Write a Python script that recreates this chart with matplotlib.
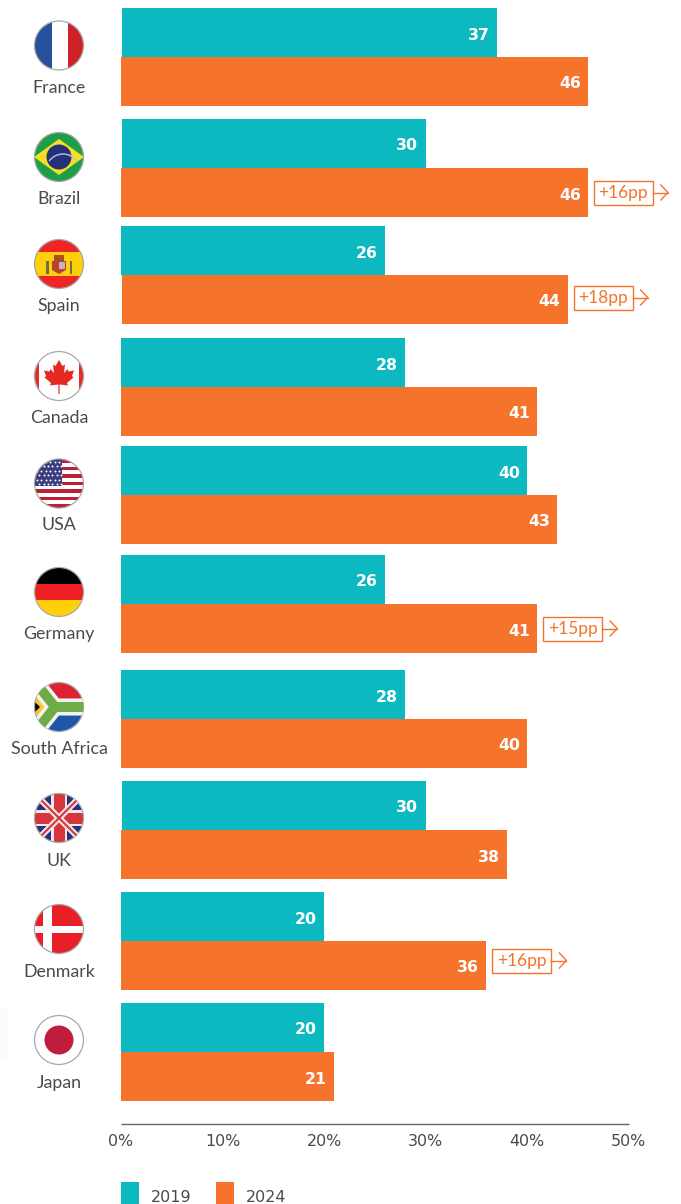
import numpy as np
import matplotlib
matplotlib.use('Agg')
import matplotlib.pyplot as plt
from matplotlib.patches import Circle, Rectangle, Polygon, Ellipse, Arc

countries = ['France', 'Brazil', 'Spain', 'Canada', 'USA', 'Germany', 'South Africa', 'UK', 'Denmark', 'Japan']
values_2019 = [37, 30, 26, 28, 40, 26, 28, 30, 20, 20]
values_2024 = [46, 46, 44, 41, 43, 41, 40, 38, 36, 21]
callouts = {'Brazil': '+16pp', 'Spain': '+18pp', 'Germany': '+15pp', 'Denmark': '+16pp'}
x_ticks = [0, 10, 20, 30, 40, 50]
series_names = ['2019', '2024']

# layout in picture pixels
W, H = 681, 1204
row_tops = [8, 119, 226, 338, 446, 555, 670, 781, 892, 1003]
flag_y = [45.5, 157, 264, 376, 483.5, 592, 707, 818, 929, 1040]
label_y = [88, 199, 306, 418, 525, 634, 749, 861, 972, 1083]
callout_y = {'Brazil': 192.5, 'Spain': 297.5, 'Germany': 628.5, 'Denmark': 960.5}
# the source bars do not all start on the same pixel
shift_2019 = ['France', 'Brazil', 'UK']
shift_2024 = ['Spain']
FLAG_X = 59
R = 24.5
X0 = 121
PX = 10.15
BAR_H = 49
TEAL = '#0CB9C1'
ORANGE = '#F6732C'
TEXT = '#4a4a4a'

fig = plt.figure(figsize=(W / 100, H / 100), dpi=100, facecolor='white')
ax = fig.add_axes([0, 0, 1, 1])
ax.set_xlim(-X0 / PX, (W - X0) / PX)
ax.set_ylim(H, 0)
ax.axis('off')
pix = fig.add_axes([0, 0, 1, 1], facecolor='none')
pix.set_xlim(0, W)
pix.set_ylim(H, 0)
pix.axis('off')

# bars
for i, c in enumerate(countries):
    top = row_tops[i]
    s19 = 0.1 if c in shift_2019 else 0
    s24 = 0.1 if c in shift_2024 else 0
    ax.barh(top + BAR_H / 2, values_2019[i] - s19, left=s19, height=BAR_H, color=TEAL, linewidth=0)
    ax.barh(top + BAR_H * 1.5, values_2024[i] - s24, left=s24, height=BAR_H, color=ORANGE, linewidth=0)
    ax.text(values_2019[i] - 0.7, top + BAR_H / 2 + 2.5, str(values_2019[i]), color='white', ha='right',
            va='center', fontsize=11.3, fontweight='bold', family='DejaVu Sans')
    ax.text(values_2024[i] - 0.7, top + BAR_H * 1.5 + 2.5, str(values_2024[i]), color='white', ha='right',
            va='center', fontsize=11.3, fontweight='bold', family='DejaVu Sans')
    pix.text(FLAG_X, label_y[i], c, color=TEXT, ha='center', va='center', fontsize=12.8, family='Lato')
    if c in callouts:
        bar_end = X0 + values_2024[i] * PX
        y = callout_y[c]
        left = bar_end + 6
        pix.add_patch(Rectangle((left, y - 12), 59, 24.5, fill=False, edgecolor=ORANGE, linewidth=1))
        pix.text(left + 29.5, y + 0.5, callouts[c], color=ORANGE, ha='center', va='center',
                 fontsize=12.5, family='Lato')
        pix.plot([left + 59, left + 74], [y, y], color=ORANGE, lw=1)
        pix.plot([left + 67, left + 74, left + 67], [y - 7.5, y, y + 7.5], color=ORANGE, lw=1)

# axis line and ticks
ax.plot([0, 50], [1123.5, 1123.5], color='#666666', lw=1, solid_capstyle='butt')
for t in x_ticks:
    ax.text(t, 1141.5, '%d%%' % t, color=TEXT, ha='center', va='center', fontsize=11.4, family='DejaVu Sans')

# legend
for lx, name, col in zip([121, 216], series_names, [TEAL, ORANGE]):
    pix.add_patch(Rectangle((lx, 1182), 18, 22, color=col, linewidth=0))
    pix.text(lx + 30, 1197, name, color=TEXT, ha='left', va='center', fontsize=11.5, family='DejaVu Sans')

# faint smudge at the left of Japan
pix.add_patch(Rectangle((0, 1008), 9, 52, color='#fbfbfb', linewidth=0))


# flags, everything clipped to the circle
def flag(cy):
    clip = Circle((FLAG_X, cy), R, transform=pix.transData)

    def rect(x0, y0, x1, y1, col):
        p = Rectangle((FLAG_X + x0, cy + y0), x1 - x0, y1 - y0, color=col, linewidth=0)
        pix.add_patch(p)
        p.set_clip_path(clip)

    def poly(pts, col):
        p = Polygon([(FLAG_X + a, cy + b) for a, b in pts], closed=True, color=col, linewidth=0)
        pix.add_patch(p)
        p.set_clip_path(clip)

    def line(pts, col, lw):
        l, = pix.plot([FLAG_X + a for a, b in pts], [cy + b for a, b in pts], color=col, lw=lw,
                      solid_capstyle='butt', solid_joinstyle='miter')
        l.set_clip_path(clip)

    return rect, poly, line, clip


def ring(cy):
    pix.add_patch(Circle((FLAG_X, cy), R, fill=False, edgecolor='#a8a8a8', linewidth=0.9))


# France
rect, poly, line, clip = flag(flag_y[0])
rect(-25, -25, -7.5, 25, '#26509B')
rect(-7.5, -25, 9, 25, 'white')
rect(9, -25, 25, 25, '#CF2027')
ring(flag_y[0])

# Brazil
rect, poly, line, clip = flag(flag_y[1])
rect(-25, -25, 25, 25, '#1E9E48')
poly([(-25, 0), (0, -18), (25, 0), (0, 18)], '#F8DE22')
pix.add_patch(Circle((FLAG_X, flag_y[1]), 12.5, color='#25307A', linewidth=0))
pix.add_patch(Arc((FLAG_X + 4, flag_y[1] + 14), 34, 34, theta1=215, theta2=325, color='#b8c4d8', lw=1))
ring(flag_y[1])

# Spain
rect, poly, line, clip = flag(flag_y[2])
rect(-25, -25, 25, 25, '#EE2427')
rect(-25, -12, 25, 12, '#FDD00B')
rect(-13, -3, -10.5, 10, '#7a6a4a')
rect(10.5, -3, 13, 10, '#7a6a4a')
rect(-7, -3, 7, 6, '#B5452A')
poly([(-7, 6), (7, 6), (0, 10)], '#B5452A')
rect(-5, -9, 5, -3, '#A8501F')
rect(0, -2, 6, 5, '#c9b0c4')
ring(flag_y[2])

# Canada
rect, poly, line, clip = flag(flag_y[3])
rect(-25, -25, 25, 25, 'white')
rect(-25, -25, -20, 25, '#E52A26')
rect(20, -25, 25, 25, '#E52A26')
leaf = [(0, -16), (3.5, -10), (6, -11.5), (5, -3), (8.5, -7), (9.5, -4.5), (15, -5.5), (13, 0),
        (14.5, 1.5), (8, 7), (9, 9.5), (0.6, 8.5), (0.6, 18)]
poly(leaf + [(-a, b) for a, b in leaf[::-1][:-1]], '#E52A26')
ring(flag_y[3])

# USA
rect, poly, line, clip = flag(flag_y[4])
rect(-25, -25, 25, 25, 'white')
stripe = 49 / 13
for s in range(0, 13, 2):
    rect(-25, -24.5 + s * stripe, 25, -24.5 + (s + 1) * stripe, '#BB1F35')
rect(-25, -25, 3, 2.8, '#3A3C7E')
for r in range(6):
    for k in range(6):
        dots = pix.scatter(FLAG_X - 22 + k * 4.4 + (r % 2) * 2.2, flag_y[4] - 21.5 + r * 4.4, s=2,
                           color='white', linewidths=0)
        dots.set_clip_path(clip)
ring(flag_y[4])

# Germany
rect, poly, line, clip = flag(flag_y[5])
rect(-25, -25, 25, -8, 'black')
rect(-25, -8, 25, 8, '#EE2026')
rect(-25, 8, 25, 25, '#FFD00A')
ring(flag_y[5])

# South Africa
rect, poly, line, clip = flag(flag_y[6])
rect(-25, -25, 25, 0, '#DE2131')
rect(-25, 0, 25, 25, '#1C57A8')
yy = [(-27, -29), (-4, 0), (27, 0)]
yy2 = [(-27, 29), (-4, 0), (27, 0)]
line(yy, '#F2F2F2', 12)
line(yy2, '#F2F2F2', 12)
line(yy, '#6FAB46', 7)
line(yy2, '#6FAB46', 7)
poly([(-25, -13), (-11, 0), (-25, 13)], '#FBC72E')
poly([(-25, -6), (-19, 0), (-25, 6)], 'black')
ring(flag_y[6])

# UK
rect, poly, line, clip = flag(flag_y[7])
rect(-25, -25, 25, 25, '#26307F')
line([(-25, -25), (25, 25)], '#F0E8E8', 4.5)
line([(-25, 25), (25, -25)], '#F0E8E8', 4.5)
line([(-25, -25), (25, 25)], '#D8343C', 1.5)
line([(-25, 25), (25, -25)], '#D8343C', 1.5)
rect(-25, -8, 25, 8, '#F0E8E8')
rect(-8, -25, 8, 25, '#F0E8E8')
rect(-25, -5.5, 25, 5.5, '#D8343C')
rect(-5.5, -25, 5.5, 25, '#D8343C')
ring(flag_y[7])

# Denmark
rect, poly, line, clip = flag(flag_y[8])
rect(-25, -25, 25, 25, '#E81F27')
rect(-16, -25, -7, 25, 'white')
rect(-25, -3.5, 25, 3.5, 'white')
ring(flag_y[8])

# Japan
rect, poly, line, clip = flag(flag_y[9])
rect(-25, -25, 25, 25, 'white')
pix.add_patch(Circle((FLAG_X, flag_y[9]), 14.5, color='#BE1E3C', linewidth=0))
ring(flag_y[9])

fig.savefig('out.png', dpi=100, facecolor='white')
